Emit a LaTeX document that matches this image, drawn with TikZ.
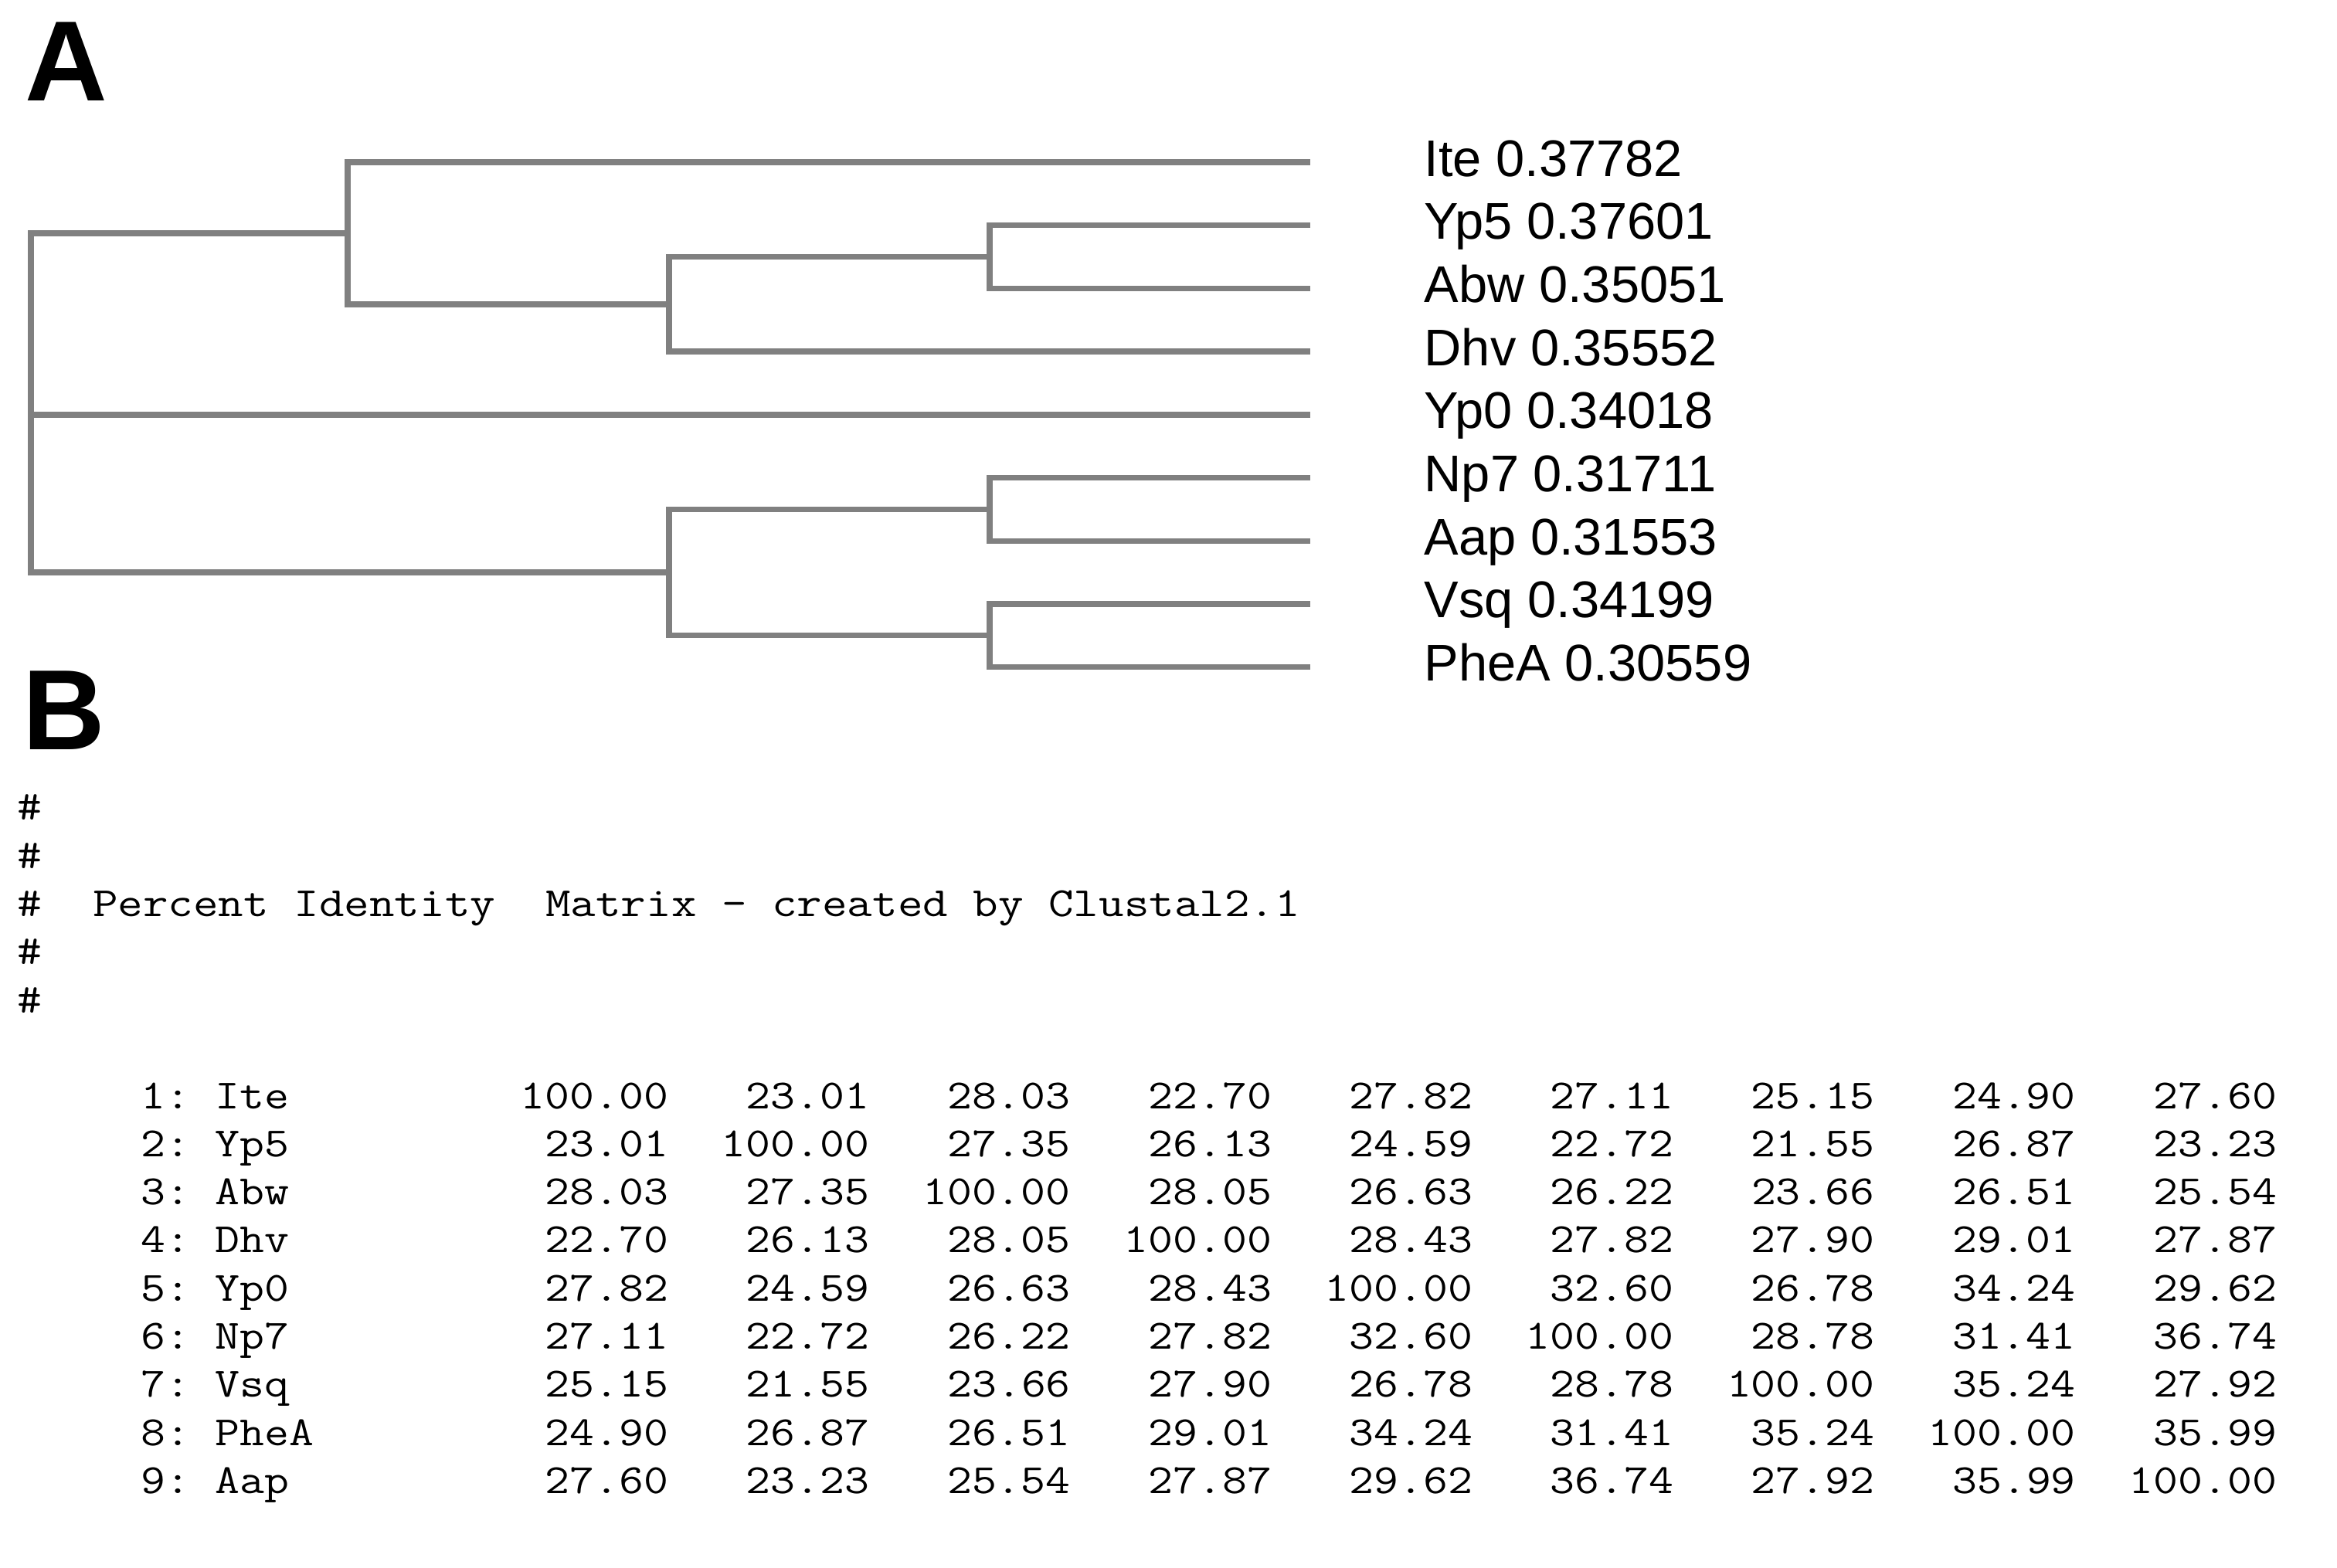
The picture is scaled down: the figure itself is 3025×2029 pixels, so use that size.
\documentclass[tikz,border=0pt]{standalone}
\usepackage{fontspec}
\setmainfont{Liberation Sans}
\usepackage{graphicx}
\definecolor{treegray}{HTML}{808080}
\newcommand\clw[1]{\scalebox{1.152}[1]{#1}}
\begin{document}
\begin{tikzpicture}[x=0.01cm,y=-0.01cm,
  branch/.style={draw=treegray, line width=2.1pt},
  leaflab/.style={anchor=base west, inner sep=0pt, font=\fontsize{19}{22}\selectfont},
  panel/.style={anchor=base west, inner sep=0pt, font=\bfseries\fontsize{42}{46}\selectfont},
  mono/.style={inner sep=0pt, font=\ttfamily\frenchspacing\fontsize{15.3}{18}\selectfont}]
\path[use as bounding box, fill=white] (0,0) rectangle (3025,2029);

% panel labels
\node[panel] (pA) at (32,130) {A};
\node[panel] (pB) at (29,970) {B};

% leaves and labels
\foreach \lab/\val [count=\k] in {Ite/0.37782, Yp5/0.37601, Abw/0.35051, Dhv/0.35552, Yp0/0.34018, Np7/0.31711, Aap/0.31553, Vsq/0.34199, PheA/0.30559}{
  \coordinate (L\k) at (1696, {210+81.7*(\k-1)});
  \node[leaflab] (T\k) at (1843, {228+81.7*(\k-1)}) {\lab\ \val};
}

% internal nodes
\coordinate (n3) at (1281, 332.55);
\coordinate (n2) at (866, 393.8);
\coordinate (n1) at (450, 301.9);
\coordinate (n5) at (1281, 659.35);
\coordinate (n6) at (1281, 822.75);
\coordinate (n4) at (866, 741.05);
\coordinate (rt) at (40, 536.8);

% branches
\draw[branch] (rt) |- (n1);
\draw[branch] (rt) |- (n4);
\draw[branch] (rt) -- (L5);
\draw[branch] (n1) |- (L1);
\draw[branch] (n1) |- (n2);
\draw[branch] (n2) |- (n3);
\draw[branch] (n2) |- (L4);
\draw[branch] (n3) |- (L2);
\draw[branch] (n3) |- (L3);
\draw[branch] (n4) |- (n5);
\draw[branch] (n4) |- (n6);
\draw[branch] (n5) |- (L6);
\draw[branch] (n5) |- (L7);
\draw[branch] (n6) |- (L8);
\draw[branch] (n6) |- (L9);

% matrix header
\foreach \yy [count=\h] in {1061,1124,1186,1248,1311}{
  \node[mono, anchor=base west] (h\h) at (22,\yy) {\clw{\#}};
}
\node[mono, anchor=base west] (title) at (119.5,1186) {\scalebox{1.175}[1]{Percent Identity\ \ Matrix - created by Clustal2.1}};

% matrix rows
\foreach \nm/\vals [count=\i] in {
  Ite/{100.00,23.01,28.03,22.70,27.82,27.11,25.15,24.90,27.60},
  Yp5/{23.01,100.00,27.35,26.13,24.59,22.72,21.55,26.87,23.23},
  Abw/{28.03,27.35,100.00,28.05,26.63,26.22,23.66,26.51,25.54},
  Dhv/{22.70,26.13,28.05,100.00,28.43,27.82,27.90,29.01,27.87},
  Yp0/{27.82,24.59,26.63,28.43,100.00,32.60,26.78,34.24,29.62},
  Np7/{27.11,22.72,26.22,27.82,32.60,100.00,28.78,31.41,36.74},
  Vsq/{25.15,21.55,23.66,27.90,26.78,28.78,100.00,35.24,27.92},
  PheA/{24.90,26.87,26.51,29.01,34.24,31.41,35.24,100.00,35.99},
  Aap/{27.60,23.23,25.54,27.87,29.62,36.74,27.92,35.99,100.00}}{
  \node[mono, anchor=base west] (r\i) at (182, {1435+62.3*(\i-1)}) {\clw{\i: \nm}};
  \foreach \v [count=\j] in \vals {
    \node[mono, anchor=base east] (m\i-\j) at ({866+260.2*(\j-1)}, {1435+62.3*(\i-1)}) {\clw{\v}};
  }
}
\end{tikzpicture}
\end{document}
